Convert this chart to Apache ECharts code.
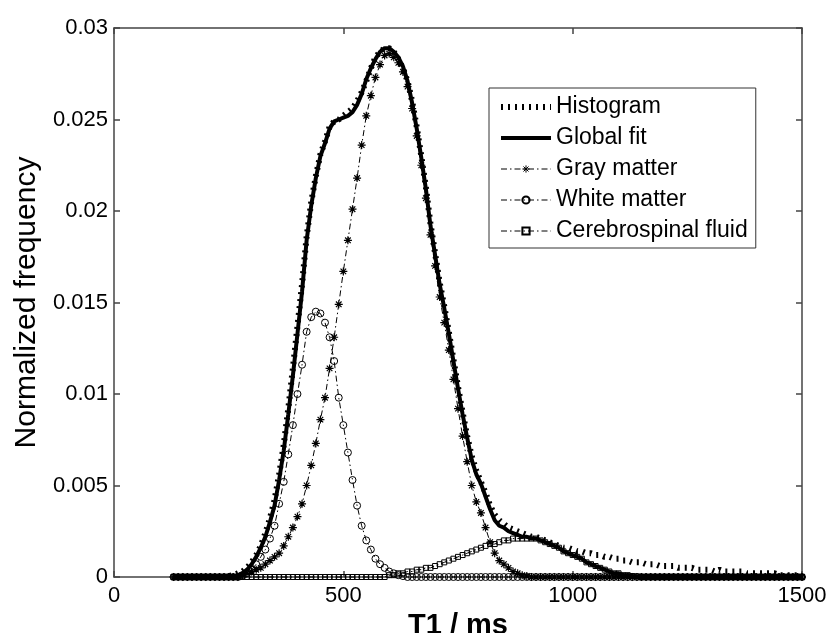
<!DOCTYPE html>
<html><head><meta charset="utf-8">
<script src="https://cdn.jsdelivr.net/npm/echarts@6/dist/echarts.min.js"></script>
<style>html,body{margin:0;padding:0;background:#fff}#c{width:826px;height:633px}</style>
</head><body><div id="c"></div>
<script>
// T1 sample positions (ms)
const T1 = [130,140,150,160,170,180,190,
 200,210,220,230,240,250,260,270,280,290,
 300,310,320,330,340,350,360,370,380,390,
 400,410,420,430,440,450,460,470,480,490,
 500,510,520,530,540,550,560,570,580,590,
 600,610,620,630,640,650,660,670,680,690,
 700,710,720,730,740,750,760,770,780,790,
 800,810,820,830,840,850,860,870,880,890,
 900,910,920,930,940,950,960,970,980,990,
 1000,1010,1020,1030,1040,1050,1060,1070,1080,1090,
 1100,1110,1120,1130,1140,1150,1160,1170,1180,1190,
 1200,1210,1220,1230,1240,1250,1260,1270,1280,1290,
 1300,1310,1320,1330,1340,1350,1360,1370,1380,1390,
 1400,1410,1420,1430,1440,1450,1460,1470,1480,1490,
 1500];

const histogram = [0,0,0,0,0,0,0,
 0,0,0,0,0,0.00005,0.0001,0.0002,0.0003,0.0005,
 0.0008,0.0012,0.0017,0.0024,0.0032,0.0042,0.0056,0.0072,0.0092,0.0114,
 0.0137,0.0160,0.0186,0.0205,0.0219,0.0231,0.0238,0.0246,0.0249,0.0250,
 0.0252,0.0254,0.0256,0.0260,0.0265,0.0271,0.0278,0.0284,0.0287,0.0289,
 0.0289,0.0287,0.0283,0.0278,0.0271,0.0260,0.0246,0.0230,0.0213,0.0193,
 0.0177,0.0161,0.0148,0.0134,0.0119,0.0104,0.0090,0.0077,0.0066,0.0058,
 0.0052,0.0046,0.0039,0.0034,0.0031,0.0029,0.0027,0.0026,0.0025,0.0024,
 0.0023,0.0022,0.0022,0.0021,0.0020,0.0019,0.0018,0.0017,0.0016,0.0016,
 0.0015,0.0014,0.0014,0.0013,0.0013,0.0012,0.0012,0.0011,0.0011,0.0010,
 0.0010,0.0009,0.0009,0.0008,0.0008,0.0008,0.0007,0.0007,0.0007,0.0006,
 0.0006,0.0006,0.0006,0.0005,0.0005,0.0005,0.0005,0.0004,0.0004,0.0004,
 0.0004,0.0003,0.0004,0.0003,0.0003,0.0003,0.0003,0.0003,0.0002,0.0002,
 0.0002,0.0002,0.0002,0.0002,0.0002,0.0001,0.0001,0.0001,0.0001,0.0001,
 0.0001];

const globalFit = [0,0,0,0,0,0,0,
 0,0,0,0,0,0,0,0.0001,0.0002,0.0004,
 0.0007,0.0011,0.0016,0.0022,0.0030,0.0039,0.0053,0.0069,0.0089,0.0110,
 0.0133,0.0156,0.0184,0.0203,0.0218,0.0230,0.0237,0.0245,0.0249,0.0250,
 0.0251,0.0252,0.0254,0.0258,0.0264,0.0272,0.0278,0.0283,0.0287,0.0289,
 0.0289,0.0287,0.0284,0.0279,0.0271,0.0259,0.0245,0.0229,0.0212,0.0192,
 0.0176,0.0160,0.0147,0.0133,0.0118,0.0103,0.0089,0.0076,0.0064,0.0056,
 0.0051,0.0044,0.0037,0.0031,0.0028,0.0027,0.0025,0.0024,0.0023,0.0022,
 0.0022,0.0021,0.0021,0.0020,0.0019,0.0018,0.0017,0.0016,0.0014,0.0013,
 0.0012,0.0011,0.0010,0.0008,0.0007,0.0006,0.0005,0.0004,0.0003,0.0002,
 0.0002,0.0001,0.0001,0.00005,0.00003,0,0,0,0,0,
 0,0,0,0,0,0,0,0,0,0,
 0,0,0,0,0,0,0,0,0,0,
 0,0,0,0,0,0,0,0,0,0,
 0];

const grayMatter = [0,0,0,0,0,0,0,
 0,0,0,0,0,0,0,0,0.0001,0.0002,
 0.0003,0.0004,0.0005,0.0007,0.0009,0.0011,0.0013,0.0017,0.0022,0.0027,
 0.0033,0.0040,0.0050,0.0061,0.0073,0.0086,0.0098,0.0114,0.0131,0.0149,
 0.0167,0.0184,0.0201,0.0218,0.0236,0.0252,0.0263,0.0273,0.0280,0.0285,
 0.0286,0.0284,0.0281,0.0276,0.0268,0.0256,0.0241,0.0225,0.0207,0.0187,
 0.0170,0.0153,0.0139,0.0124,0.0108,0.0092,0.0077,0.0063,0.0050,0.0041,
 0.0035,0.0027,0.0019,0.0013,0.0009,0.0007,0.0005,0.0003,0.0002,0.0001,
 0.00005,0,0,0,0,0,0,0,0,0,
 0,0,0,0,0,0,0,0,0,0,
 0,0,0,0,0,0,0,0,0,0,
 0,0,0,0,0,0,0,0,0,0,
 0,0,0,0,0,0,0,0,0,0,
 0,0,0,0,0,0,0,0,0,0,
 0];

const whiteMatter = [0,0,0,0,0,0,0,
 0,0,0,0,0,0,0,0,0.0001,0.0002,
 0.0004,0.0007,0.0011,0.0015,0.0021,0.0028,0.0040,0.0052,0.0067,0.0083,
 0.0100,0.0116,0.0134,0.0142,0.0145,0.0144,0.0139,0.0131,0.0118,0.0098,
 0.0083,0.0068,0.0053,0.0039,0.0028,0.0020,0.0015,0.0010,0.0007,0.0005,
 0.0003,0.0002,0.0001,0.00005,0,0,0,0,0,0,
 0,0,0,0,0,0,0,0,0,0,
 0,0,0,0,0,0,0,0,0,0,
 0,0,0,0,0,0,0,0,0,0,
 0,0,0,0,0,0,0,0,0,0,
 0,0,0,0,0,0,0,0,0,0,
 0,0,0,0,0,0,0,0,0,0,
 0,0,0,0,0,0,0,0,0,0,
 0,0,0,0,0,0,0,0,0,0,
 0];

const csf = [0,0,0,0,0,0,0,
 0,0,0,0,0,0,0,0,0,0,
 0,0,0,0,0,0,0,0,0,0,
 0,0,0,0,0,0,0,0,0,0,
 0,0,0,0,0,0,0,0,0,0,
 0.0001,0.0001,0.0002,0.0002,0.0003,0.0003,0.0004,0.0004,0.0005,0.0005,
 0.0006,0.0007,0.0008,0.0009,0.0010,0.0011,0.0012,0.0013,0.0014,0.0015,
 0.0016,0.0017,0.0018,0.0018,0.0019,0.0020,0.0020,0.0021,0.0021,0.0021,
 0.0021,0.0021,0.0021,0.0020,0.0019,0.0018,0.0017,0.0016,0.0014,0.0013,
 0.0012,0.0011,0.0010,0.0008,0.0007,0.0006,0.0005,0.0004,0.0003,0.0002,
 0.0002,0.0001,0.0001,0.00005,0.00003,0,0,0,0,0,
 0,0,0,0,0,0,0,0,0,0,
 0,0,0,0,0,0,0,0,0,0,
 0,0,0,0,0,0,0,0,0,0,
 0];

const seriesNames = ['Histogram','Global fit','Gray matter','White matter','Cerebrospinal fluid'];
const xTitle = 'T1 / ms';
const yTitle = 'Normalized frequency';

const FONT = '"Liberation Sans", Arial, Helvetica, sans-serif';
const pairs = arr => T1.map((t, i) => [t, arr[i]]);
const dashDot = [6, 3, 1.5, 3];
const histDash = [2, 5];
const asterisk = 'path://M5 0L5 10M0 5L10 5M1.5 1.5L8.5 8.5M1.5 8.5L8.5 1.5';
const axisLineStyle = {color: '#444', width: 1.5};
const hidden = {color: 'rgba(0,0,0,0)', borderColor: 'rgba(0,0,0,0)', borderWidth: 0};

const chart = echarts.init(document.getElementById('c'), null, {renderer: 'canvas'});
chart.setOption({
  animation: false,
  backgroundColor: '#fff',
  textStyle: {fontFamily: FONT},
  grid: {left: 114, right: 24, top: 28, bottom: 56, containLabel: false, outerBoundsMode: 'none'},
  legend: {
    orient: 'vertical', left: 489, top: 88,
    data: [
      {name: seriesNames[0], lineStyle: {width: 6, type: histDash, cap: 'butt'}, itemStyle: hidden},
      {name: seriesNames[1], lineStyle: {width: 4}, itemStyle: hidden},
      {name: seriesNames[2], lineStyle: {width: 1}, itemStyle: {color: '#000', borderColor: '#000', borderWidth: 1}},
      {name: seriesNames[3], lineStyle: {width: 1}},
      {name: seriesNames[4], lineStyle: {width: 1}}
    ],
    itemWidth: 50, itemHeight: 9, itemGap: 7,
    padding: [7, 8, 5, 9],
    borderColor: '#333', borderWidth: 1, backgroundColor: '#fff',
    textStyle: {fontSize: 23, color: '#000', lineHeight: 24, fontFamily: FONT},
    selectedMode: false
  },
  xAxis: [{
    type: 'value', min: 0, max: 1500, interval: 500, position: 'bottom',
    axisLine: {show: true, onZero: false, lineStyle: axisLineStyle},
    axisTick: {show: true, inside: true, length: 6, lineStyle: axisLineStyle},
    axisLabel: {fontSize: 22, color: '#000', margin: 8, fontFamily: FONT, formatter: v => String(v)},
    splitLine: {show: false},
    name: xTitle, nameLocation: 'middle', nameGap: 24,
    nameTextStyle: {fontSize: 29, fontWeight: 'bold', color: '#000', fontFamily: FONT}
  }, {
    type: 'value', min: 0, max: 1500, interval: 500, position: 'top',
    axisLine: {show: true, onZero: false, lineStyle: axisLineStyle},
    axisTick: {show: true, inside: true, length: 6, lineStyle: axisLineStyle},
    axisLabel: {show: false}, splitLine: {show: false}
  }],
  yAxis: [{
    type: 'value', min: 0, max: 0.03, interval: 0.005, position: 'left',
    axisLine: {show: true, onZero: false, lineStyle: axisLineStyle},
    axisTick: {show: true, inside: true, length: 6, lineStyle: axisLineStyle},
    axisLabel: {fontSize: 22, color: '#000', margin: 6, fontFamily: FONT,
      formatter: v => String(+v.toFixed(3))},
    splitLine: {show: false},
    name: yTitle, nameLocation: 'middle', nameGap: 66, nameRotate: 90,
    nameTextStyle: {fontSize: 30, color: '#000', fontFamily: FONT}
  }, {
    type: 'value', min: 0, max: 0.03, interval: 0.005, position: 'right',
    axisLine: {show: true, onZero: false, lineStyle: axisLineStyle},
    axisTick: {show: true, inside: true, length: 6, lineStyle: axisLineStyle},
    axisLabel: {show: false}, splitLine: {show: false}
  }],
  series: [
    {name: seriesNames[0], type: 'line', data: pairs(histogram), showSymbol: false, symbol: 'circle', clip: false,
     lineStyle: {color: '#000', width: 6, type: histDash, cap: 'butt'}, itemStyle: hidden},
    {name: seriesNames[1], type: 'line', data: pairs(globalFit), showSymbol: false, symbol: 'circle', clip: false,
     lineStyle: {color: '#000', width: 4}, itemStyle: hidden},
    {name: seriesNames[2], type: 'line', data: pairs(grayMatter), symbol: asterisk, symbolSize: 8, showAllSymbol: true, clip: false,
     lineStyle: {color: '#000', width: 1, type: dashDot},
     itemStyle: {color: '#000', borderColor: '#000', borderWidth: 1.2}},
    {name: seriesNames[3], type: 'line', data: pairs(whiteMatter), symbol: 'circle', symbolSize: 7, showAllSymbol: true, clip: false,
     lineStyle: {color: '#000', width: 1, type: dashDot},
     itemStyle: {color: 'rgba(0,0,0,0)', borderColor: '#000', borderWidth: 1}},
    {name: seriesNames[4], type: 'line', data: pairs(csf), symbol: 'rect', symbolSize: 5, showAllSymbol: true, clip: false,
     lineStyle: {color: '#000', width: 1, type: dashDot},
     itemStyle: {color: 'rgba(0,0,0,0)', borderColor: '#000', borderWidth: 1}}
  ]
});
</script></body></html>
